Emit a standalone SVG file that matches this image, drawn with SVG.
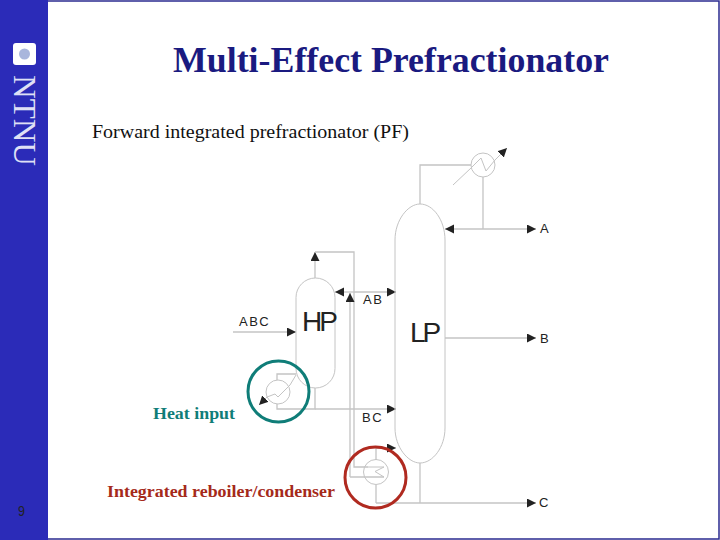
<svg xmlns="http://www.w3.org/2000/svg" width="720" height="540" viewBox="0 0 720 540">
<defs>
<marker id="ah" markerUnits="userSpaceOnUse" markerWidth="10" markerHeight="10" refX="9" refY="4.500" orient="auto"><path d="M0 0L9 4.500L0 9Z" fill="#222"/></marker>
</defs>
<style>
.l{fill:none;stroke:#c4c4c4;stroke-width:1.3}
.t{fill:none;stroke:#c4c4c4;stroke-width:1}
.a{marker-end:url(#ah)}
.s{font-family:"Liberation Sans",Arial,sans-serif;font-size:13px;fill:#222;letter-spacing:1.5px}
.h{font-family:"Liberation Sans",Arial,sans-serif;font-size:28px;fill:#222;letter-spacing:-3px}
.b{font-family:"Liberation Serif","Times New Roman",serif;font-weight:bold}
</style>
<rect width="720" height="540" fill="#fff"/>
<g id="slide-frame">
<rect x="0" y="0" width="48" height="540" fill="#2b2bb8"/>
<path d="M48 1H719V539H48" fill="none" stroke="#2b2b90" stroke-width="1.5"/>
</g>
<g id="logo">
<rect x="13" y="43" width="23" height="22" rx="3" fill="#fff"/>
<circle cx="24.500" cy="54" r="5.500" fill="#a9b6dc"/>
<text transform="translate(14,75) rotate(90)" font-family="'Liberation Serif',serif" font-size="31" fill="#dfe0f5" textLength="91" lengthAdjust="spacingAndGlyphs">NTNU</text>
</g>
<text id="title" class="b" x="173" y="72" font-size="35.5" fill="#1a1a80" textLength="436" lengthAdjust="spacingAndGlyphs">Multi-Effect Prefractionator</text>
<text id="subtitle" x="92" y="138" font-family="'Liberation Serif',serif" font-size="19" fill="#111" textLength="317" lengthAdjust="spacingAndGlyphs">Forward integrated prefractionator (PF)</text>
<text id="page" x="18" y="516" font-family="'Liberation Sans',sans-serif" font-size="14" fill="#222" textLength="7" lengthAdjust="spacingAndGlyphs">9</text>
<g id="connectors">
<path class="l" d="M420 204V165H471"/>
<path class="l" d="M483 177V229"/>
<path class="l a" d="M483 229H445"/>
<path class="l a" d="M483 229H536"/>
<path class="t a" d="M453 185L471 168L481 158L486 171L495 160L507 148"/>
<path class="l a" d="M445 338H536"/>
<path class="l a" d="M315 278V252"/>
<path class="l" d="M315 252H354V467H368"/>
<path class="l a" d="M350 477V293"/>
<path class="l" d="M350 477H384"/>
<path class="l a" d="M354 292H335"/>
<path class="l a" d="M354 292H396"/>
<path class="l a" d="M233 332H296"/>
<path class="l" d="M296 374H277V380"/>
<path class="l" d="M277 404V409H315V388"/>
<path class="l a" d="M315 409H396"/>
<path class="t a" d="M296 375L290 385L285 390L278 397L275 394L267 397L259 405"/>
<path class="l a" d="M376 448H396"/>
<path class="l" d="M376 448V460M376 485V503"/>
<path class="l a" d="M376 503H536"/>
<path class="l" d="M420 463V503"/>
</g>
<g id="HP">
<rect class="t" x="296" y="278" width="39" height="110" rx="19.500"/>
<text class="h" x="302" y="331">HP</text>
</g>
<g id="LP">
<path class="t" d="M395 240C395 220 408 204 420 204C433 204 445 220 445 240V428C445 447 433 463 420 463C408 463 395 447 395 428Z"/>
<text class="h" x="410" y="342">LP</text>
</g>
<g id="reboiler">
<circle class="t" cx="278" cy="392" r="12"/>
</g>
<g id="condenser-top">
<circle class="t" cx="483" cy="165" r="12"/>
</g>
<g id="reboiler-condenser">
<circle class="t" cx="376" cy="472" r="12.500"/>
<path class="t" d="M368 467H384L375 471.500L384 477"/>
</g>
<g id="labels">
<text class="s" x="239" y="326">ABC</text>
<text class="s" x="363" y="304">AB</text>
<text class="s" x="362" y="422">BC</text>
<text class="s" x="540" y="233">A</text>
<text class="s" x="540" y="343">B</text>
<text class="s" x="539" y="507">C</text>
</g>
<g id="highlight-heat-input">
<circle cx="278.500" cy="391.500" r="30.500" fill="none" stroke="#0f7d78" stroke-width="3"/>
<text class="b" x="153" y="419" font-size="16" fill="#0f7d78" textLength="82" lengthAdjust="spacingAndGlyphs">Heat input</text>
</g>
<g id="highlight-integrated">
<circle cx="375.500" cy="477.500" r="30.500" fill="none" stroke="#b02a20" stroke-width="3"/>
<text class="b" x="107" y="497" font-size="16" fill="#a52a1a" textLength="228" lengthAdjust="spacingAndGlyphs">Integrated reboiler/condenser</text>
</g>
</svg>
